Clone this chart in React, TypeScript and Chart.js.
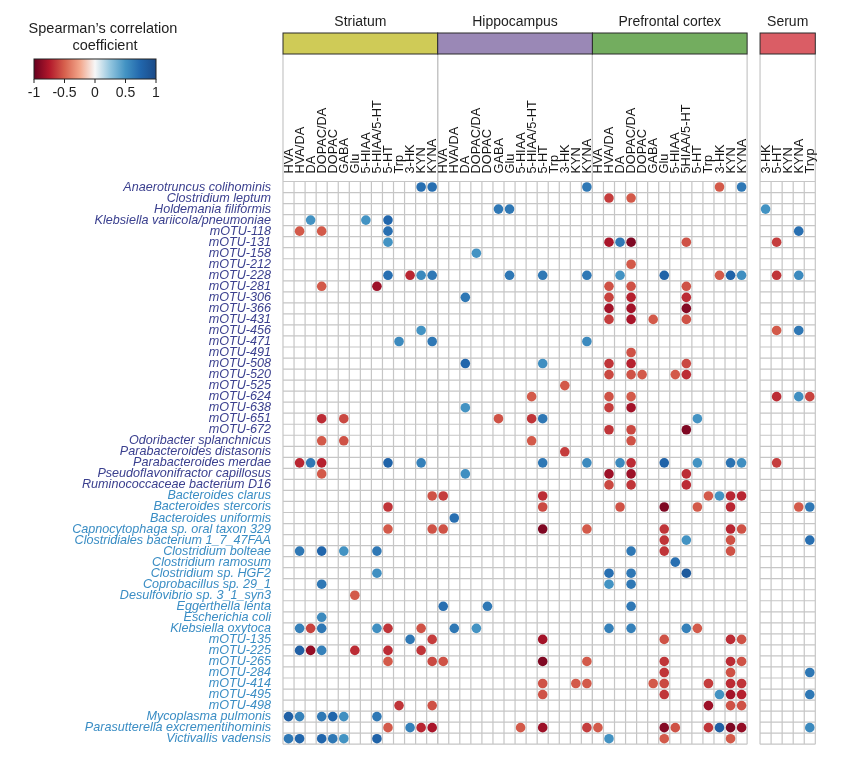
import { useEffect, useRef } from "react";
import { Chart, registerables } from "chart.js";

Chart.register(...registerables);

const FONT = "'Liberation Sans', Arial, Helvetica, sans-serif";

// ---------- data ----------
const taxa = [
  "Anaerotruncus colihominis", "Clostridium leptum", "Holdemania filiformis", "Klebsiella variicola/pneumoniae",
  "mOTU-118", "mOTU-131", "mOTU-158", "mOTU-212", "mOTU-228", "mOTU-281", "mOTU-306", "mOTU-366", "mOTU-431",
  "mOTU-456", "mOTU-471", "mOTU-491", "mOTU-508", "mOTU-520", "mOTU-525", "mOTU-624", "mOTU-638", "mOTU-651",
  "mOTU-672", "Odoribacter splanchnicus", "Parabacteroides distasonis", "Parabacteroides merdae",
  "Pseudoflavonifractor capillosus", "Ruminococcaceae bacterium D16",
  "Bacteroides clarus", "Bacteroides stercoris", "Bacteroides uniformis", "Capnocytophaga sp. oral taxon 329",
  "Clostridiales bacterium 1_7_47FAA", "Clostridium bolteae", "Clostridium ramosum", "Clostridium sp. HGF2",
  "Coprobacillus sp. 29_1", "Desulfovibrio sp. 3_1_syn3", "Eggerthella lenta", "Escherichia coli",
  "Klebsiella oxytoca", "mOTU-135", "mOTU-225", "mOTU-265", "mOTU-284", "mOTU-414", "mOTU-495", "mOTU-498",
  "Mycoplasma pulmonis", "Parasutterella excrementihominis", "Victivallis vadensis",
];
const firstGroupCount = 28;

const striatumCols = ["HVA", "HVA/DA", "DA", "DOPAC/DA", "DOPAC", "GABA", "Glu", "5-HIAA", "5-HIAA/5-HT", "5-HT", "Trp", "3-HK", "KYN", "KYNA"];
const hippocampusCols = ["HVA", "HVA/DA", "DA", "DOPAC/DA", "DOPAC", "GABA", "Glu", "5-HIAA", "5-HIAA/5-HT", "5-HT", "Trp", "3-HK", "KYN", "KYNA"];
const prefrontalCols = ["HVA", "HVA/DA", "DA", "DOPAC/DA", "DOPAC", "GABA", "Glu", "5-HIAA", "5HIAA/5-HT", "5-HT", "Trp", "3-HK", "KYN", "KYNA"];
const serumCols = ["3-HK", "5-HT", "KYN", "KYNA", "Tryp"];
const regionNames = ["Striatum", "Hippocampus", "Prefrontal cortex", "Serum"];
const colorbarTicks = [-1, -0.5, 0, 0.5, 1];

// [taxon index, metabolite index, Spearman rho]
const striatumRho: number[][] = [
  [0, 12, 0.7], [0, 13, 0.7],
  [3, 2, 0.5], [3, 7, 0.5], [3, 9, 0.75],
  [4, 1, -0.52], [4, 3, -0.52], [4, 9, 0.7],
  [5, 9, 0.5],
  [8, 9, 0.7], [8, 11, -0.7], [8, 12, 0.55], [8, 13, 0.65],
  [9, 3, -0.52], [9, 8, -0.82],
  [13, 12, 0.5],
  [14, 10, 0.55], [14, 13, 0.65],
  [21, 3, -0.68], [21, 5, -0.58],
  [23, 3, -0.52], [23, 5, -0.55],
  [25, 1, -0.7], [25, 2, 0.65], [25, 3, -0.72], [25, 9, 0.78], [25, 12, 0.6],
  [26, 3, -0.52],
  [28, 13, -0.55],
  [29, 9, -0.65],
  [31, 9, -0.52], [31, 13, -0.55],
  [33, 1, 0.65], [33, 3, 0.75], [33, 5, 0.5], [33, 8, 0.65],
  [35, 8, 0.52],
  [36, 3, 0.65],
  [37, 6, -0.52],
  [39, 3, 0.55],
  [40, 1, 0.6], [40, 2, -0.6], [40, 3, 0.65], [40, 8, 0.52], [40, 9, -0.65], [40, 12, -0.55],
  [41, 11, 0.65], [41, 13, -0.62],
  [42, 1, 0.8], [42, 2, -0.85], [42, 3, 0.6], [42, 6, -0.68], [42, 9, -0.68], [42, 12, -0.65],
  [43, 9, -0.52], [43, 13, -0.58],
  [47, 10, -0.65], [47, 13, -0.55],
  [48, 0, 0.8], [48, 1, 0.6], [48, 3, 0.65], [48, 4, 0.75], [48, 5, 0.52], [48, 8, 0.65],
  [49, 9, -0.52], [49, 11, 0.6], [49, 12, -0.7], [49, 13, -0.78],
  [50, 0, 0.65], [50, 1, 0.75], [50, 3, 0.75], [50, 4, 0.65], [50, 5, 0.5], [50, 8, 0.78],
];

const hippocampusRho: number[][] = [
  [0, 13, 0.65],
  [2, 5, 0.65], [2, 6, 0.65],
  [6, 3, 0.5],
  [8, 6, 0.65], [8, 9, 0.65], [8, 13, 0.65],
  [10, 2, 0.65],
  [14, 13, 0.55],
  [16, 2, 0.75], [16, 9, 0.52],
  [18, 11, -0.52],
  [19, 8, -0.52],
  [20, 2, 0.5],
  [21, 5, -0.55], [21, 8, -0.65], [21, 9, 0.65],
  [23, 8, -0.52],
  [24, 11, -0.62],
  [25, 9, 0.65], [25, 13, 0.55],
  [26, 2, 0.52],
  [28, 0, -0.62], [28, 9, -0.68],
  [29, 9, -0.58],
  [30, 1, 0.7],
  [31, 0, -0.55], [31, 9, -0.92], [31, 13, -0.52],
  [38, 0, 0.7], [38, 4, 0.65],
  [40, 1, 0.65], [40, 3, 0.5],
  [41, 9, -0.8],
  [43, 0, -0.55], [43, 9, -0.92], [43, 13, -0.52],
  [45, 9, -0.55], [45, 12, -0.52], [45, 13, -0.52],
  [46, 9, -0.55],
  [49, 7, -0.52], [49, 9, -0.82], [49, 13, -0.62],
];

const prefrontalRho: number[][] = [
  [0, 11, -0.52], [0, 13, 0.65],
  [1, 1, -0.62], [1, 3, -0.52],
  [5, 1, -0.78], [5, 2, 0.65], [5, 3, -0.92], [5, 8, -0.55],
  [7, 3, -0.52],
  [8, 2, 0.5], [8, 6, 0.78], [8, 11, -0.52], [8, 12, 0.78], [8, 13, 0.52],
  [9, 1, -0.55], [9, 3, -0.55], [9, 8, -0.55],
  [10, 1, -0.6], [10, 3, -0.72], [10, 8, -0.68],
  [11, 1, -0.8], [11, 3, -0.8], [11, 8, -0.9],
  [12, 1, -0.62], [12, 3, -0.78], [12, 5, -0.52], [12, 8, -0.55],
  [15, 3, -0.55],
  [16, 1, -0.65], [16, 3, -0.72], [16, 8, -0.58],
  [17, 1, -0.58], [17, 3, -0.55], [17, 4, -0.52], [17, 7, -0.52], [17, 8, -0.68],
  [19, 1, -0.55], [19, 3, -0.52],
  [20, 1, -0.62], [20, 3, -0.8],
  [21, 9, 0.5],
  [22, 1, -0.65], [22, 3, -0.58], [22, 8, -0.92],
  [23, 3, -0.55],
  [25, 2, 0.55], [25, 3, -0.68], [25, 6, 0.78], [25, 9, 0.5], [25, 12, 0.68], [25, 13, 0.52],
  [26, 1, -0.82], [26, 3, -0.82], [26, 8, -0.68],
  [27, 1, -0.58], [27, 3, -0.65], [27, 8, -0.68],
  [28, 10, -0.52], [28, 11, 0.5], [28, 12, -0.7], [28, 13, -0.7],
  [29, 2, -0.55], [29, 6, -0.92], [29, 9, -0.52], [29, 12, -0.7],
  [31, 6, -0.65], [31, 12, -0.7], [31, 13, -0.55],
  [32, 6, -0.65], [32, 8, 0.5], [32, 12, -0.55],
  [33, 3, 0.65], [33, 6, -0.65], [33, 12, -0.55],
  [34, 7, 0.7],
  [35, 1, 0.7], [35, 3, 0.65], [35, 8, 0.85],
  [36, 1, 0.5], [36, 3, 0.65],
  [38, 3, 0.65],
  [40, 1, 0.6], [40, 3, 0.6], [40, 8, 0.6], [40, 9, -0.52],
  [41, 6, -0.55], [41, 12, -0.68], [41, 13, -0.55],
  [43, 6, -0.65], [43, 12, -0.68], [43, 13, -0.55],
  [44, 6, -0.65], [44, 12, -0.55],
  [45, 5, -0.52], [45, 6, -0.58], [45, 10, -0.62], [45, 12, -0.68], [45, 13, -0.65],
  [46, 6, -0.65], [46, 11, 0.5], [46, 12, -0.8], [46, 13, -0.72],
  [47, 10, -0.82], [47, 12, -0.55], [47, 13, -0.55],
  [49, 0, -0.52], [49, 6, -0.9], [49, 7, -0.55], [49, 10, -0.65], [49, 11, 0.8], [49, 12, -0.92], [49, 13, -0.85],
  [50, 1, 0.5], [50, 6, -0.52], [50, 12, -0.52],
];

const serumRho: number[][] = [
  [2, 0, 0.5],
  [4, 3, 0.7],
  [5, 1, -0.62],
  [8, 1, -0.65], [8, 3, 0.55],
  [13, 1, -0.52], [13, 3, 0.65],
  [19, 1, -0.68], [19, 3, 0.52], [19, 4, -0.6],
  [25, 1, -0.62],
  [29, 3, -0.52], [29, 4, 0.65],
  [32, 4, 0.7],
  [44, 4, 0.65],
  [46, 4, 0.65],
  [49, 4, 0.55],
];

// ---------- colour scale ----------
const rhoStops: [number, string][] = [
  [-1, "#67001f"], [-0.75, "#b2182b"], [-0.5, "#d6604d"], [-0.25, "#f2a58a"], [0, "#f7f7f7"],
  [0.25, "#92c5de"], [0.5, "#4393c3"], [0.75, "#2166ac"], [1, "#1b4a87"],
];

function hex(c: string) {
  return [1, 3, 5].map((i) => parseInt(c.slice(i, i + 2), 16));
}
function rhoColor(v: number) {
  const c = Math.max(-1, Math.min(1, v));
  for (let i = 0; i < rhoStops.length - 1; i++) {
    const [a, ca] = rhoStops[i];
    const [b, cb] = rhoStops[i + 1];
    if (c >= a && c <= b) {
      const t = (c - a) / (b - a);
      const A = hex(ca), B = hex(cb);
      const m = A.map((x, k) => Math.round(x + (B[k] - x) * t));
      return `rgb(${m[0]},${m[1]},${m[2]})`;
    }
  }
  return rhoStops[rhoStops.length - 1][1];
}

export default function App() {
  const ref = useRef<HTMLCanvasElement>(null);

  useEffect(() => {
    if (!ref.current) return;
    const regions = [
      { name: regionNames[0], cols: striatumCols, rho: striatumRho, first: 0, fill: "#cfcb57" },
      { name: regionNames[1], cols: hippocampusCols, rho: hippocampusRho, first: 14, fill: "#9a88b6" },
      { name: regionNames[2], cols: prefrontalCols, rho: prefrontalRho, first: 28, fill: "#73ad5f" },
      { name: regionNames[3], cols: serumCols, rho: serumRho, first: 43.17, fill: "#da5d65" },
    ];
    const xTicks = regions.flatMap((r) => r.cols.map((c, j) => ({ value: r.first + j, label: c })));
    const points = regions.flatMap((r) => r.rho.map(([t, m, v]) => ({ x: r.first + m, y: t, v })));

    const barTop = 25, barBottom = 46;

    const decor = {
      id: "decor",
      beforeDatasetsDraw(chart: any) {
        const { ctx, chartArea: ca, scales } = chart;
        const x = scales.x, y = scales.y;
        ctx.save();
        ctx.strokeStyle = "#c6c6c6";
        ctx.lineWidth = 1.2;
        for (const r of regions) {
          const x0 = x.getPixelForValue(r.first - 0.5);
          const x1 = x.getPixelForValue(r.first - 0.5 + r.cols.length);
          ctx.beginPath();
          for (let i = 0; i <= r.cols.length; i++) {
            const px = x.getPixelForValue(r.first - 0.5 + i);
            ctx.moveTo(px, ca.top);
            ctx.lineTo(px, ca.bottom);
          }
          for (let i = 0; i <= taxa.length; i++) {
            const py = y.getPixelForValue(i - 0.5);
            ctx.moveTo(x0, py);
            ctx.lineTo(x1, py);
          }
          ctx.moveTo(x0, barBottom);
          ctx.lineTo(x0, ca.top);
          ctx.moveTo(x1, barBottom);
          ctx.lineTo(x1, ca.top);
          ctx.stroke();
        }
        // metabolite labels, anchored on the x scale, reading bottom-to-top
        ctx.fillStyle = "#151515";
        ctx.font = `12.8px ${FONT}`;
        ctx.textAlign = "left";
        ctx.textBaseline = "middle";
        for (const t of xTicks) {
          const px = x.getPixelForValue(t.value);
          ctx.save();
          ctx.translate(px + 0.5, ca.top - 8);
          ctx.rotate(-Math.PI / 2);
          ctx.fillText(t.label, 0, 0);
          ctx.restore();
        }
        ctx.restore();
      },
      afterDraw(chart: any) {
        const { ctx, scales } = chart;
        const x = scales.x;
        ctx.save();
        // region header bars
        for (const r of regions) {
          const x0 = x.getPixelForValue(r.first - 0.5);
          const x1 = x.getPixelForValue(r.first - 0.5 + r.cols.length);
          ctx.fillStyle = r.fill;
          ctx.fillRect(x0, barTop, x1 - x0, barBottom - barTop);
          ctx.strokeStyle = "#2b2b2b";
          ctx.lineWidth = 1;
          ctx.strokeRect(x0, barTop, x1 - x0, barBottom - barTop);
          ctx.fillStyle = "#1e1e1e";
          ctx.font = `14px ${FONT}`;
          ctx.textAlign = "center";
          ctx.textBaseline = "alphabetic";
          ctx.fillText(r.name, (x0 + x1) / 2, 18);
        }
        // colour bar legend
        const lx0 = 26, lx1 = 148, ly0 = 51, ly1 = 71;
        ctx.fillStyle = "#1e1e1e";
        ctx.font = `14.5px ${FONT}`;
        ctx.textAlign = "center";
        ctx.fillText("Spearman\u2019s correlation", 95, 25);
        ctx.fillText("coefficient", 97, 42);
        const g = ctx.createLinearGradient(lx0, 0, lx1, 0);
        for (const [v, c] of rhoStops) g.addColorStop((v + 1) / 2, c);
        ctx.fillStyle = g;
        ctx.fillRect(lx0, ly0, lx1 - lx0, ly1 - ly0);
        ctx.strokeStyle = "#222";
        ctx.lineWidth = 1;
        ctx.strokeRect(lx0, ly0, lx1 - lx0, ly1 - ly0);
        ctx.beginPath();
        for (const t of colorbarTicks) {
          const px = lx0 + ((t + 1) / 2) * (lx1 - lx0);
          ctx.moveTo(px, ly1);
          ctx.lineTo(px, ly1 + 4);
        }
        ctx.stroke();
        ctx.fillStyle = "#1e1e1e";
        ctx.font = `14px ${FONT}`;
        for (const t of colorbarTicks) {
          const px = lx0 + ((t + 1) / 2) * (lx1 - lx0);
          ctx.fillText(String(t), px, 89);
        }
        ctx.restore();
      },
    };

    const chart = new Chart(ref.current, {
      type: "scatter",
      data: {
        datasets: [
          {
            data: points as any,
            pointRadius: 4.8,
            pointBorderWidth: 0,
            pointBackgroundColor: (c: any) => rhoColor(c.raw ? c.raw.v : 0),
            pointHoverRadius: 4.8,
          },
        ],
      },
      options: {
        animation: false,
        responsive: true,
        maintainAspectRatio: false,
        events: [],
        layout: { padding: { left: 0, top: 0, right: 22.7, bottom: 3.5 } },
        plugins: { legend: { display: false }, tooltip: { enabled: false } },
        scales: {
          x: {
            type: "linear",
            position: "top",
            min: -0.5,
            max: 47.67,
            grid: { display: false, drawTicks: false },
            border: { display: false },
            afterBuildTicks: (s: any) => {
              s.ticks = xTicks.map((t) => ({ value: t.value }));
            },
            afterFit: (s: any) => {
              s.height = 173.5;
              s.paddingLeft = 0;
              s.paddingRight = 0;
            },
            ticks: {
              display: false,
              autoSkip: false,
              callback: (_v: any, i: number) => xTicks[i].label,
            },
          },
          y: {
            type: "linear",
            reverse: true,
            min: -0.5,
            max: taxa.length - 0.5,
            grid: { display: false, drawTicks: false },
            border: { display: false },
            afterBuildTicks: (s: any) => {
              s.ticks = taxa.map((_, i) => ({ value: i }));
            },
            afterFit: (s: any) => {
              s.width = 275;
              s.paddingTop = 0;
              s.paddingBottom = 0;
            },
            ticks: {
              autoSkip: false,
              padding: 12,
              font: { family: FONT, size: 12.6, style: "italic" },
              color: (c: any) => (c.index < firstGroupCount ? "#3b408f" : "#3a8dc4"),
              callback: (_v: any, i: number) => taxa[i],
            },
          },
        },
      },
      plugins: [decor],
    });
    return () => chart.destroy();
  }, []);

  return (
    <div style={{ width: 830, height: 741, position: "relative" }}>
      <canvas ref={ref} />
    </div>
  );
}
